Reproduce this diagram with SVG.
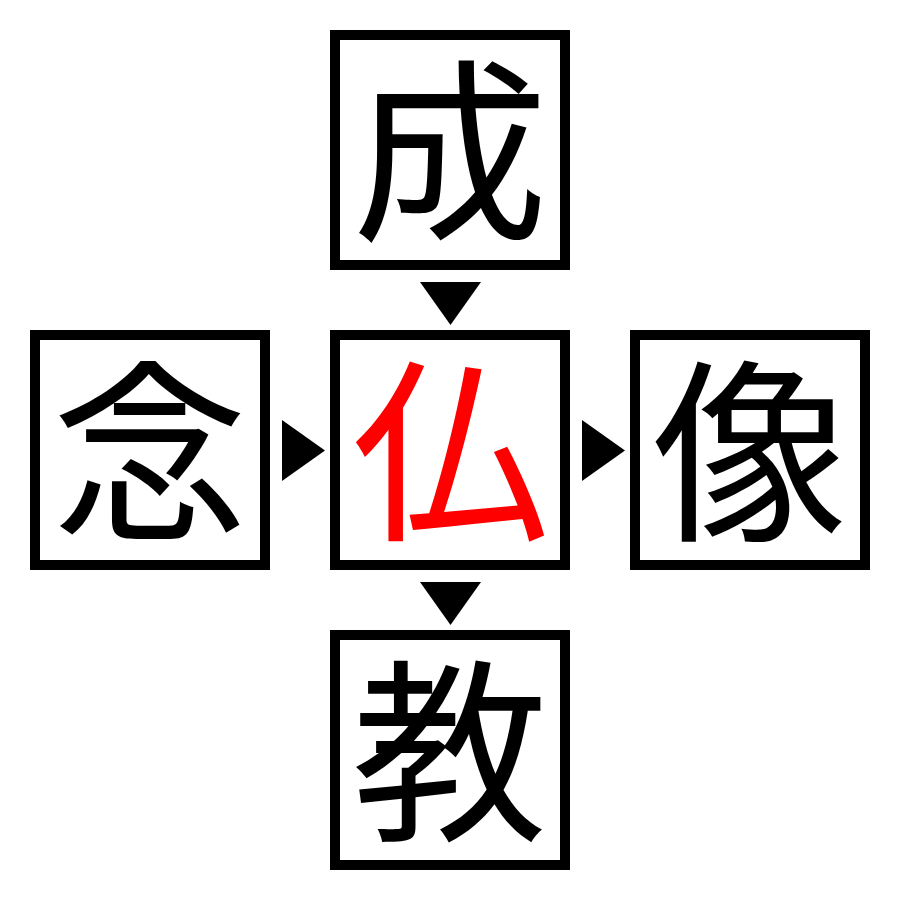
<svg xmlns="http://www.w3.org/2000/svg" width="900" height="900" viewBox="0 0 900 900">
<style>
.box{fill:#fff;stroke:#000;stroke-width:10}
.ch{font-family:"Noto Sans CJK JP","Noto Sans CJK SC",sans-serif;font-size:196px;text-anchor:middle;fill:#000;font-weight:400}
.red{fill:#ff0000}
.arr{fill:#000}
</style>
<rect width="900" height="900" fill="#fff"/>
<g id="node-top">
<rect class="box" x="335" y="35" width="230" height="230"/>
<text class="ch" x="450" y="225">成</text>
</g>
<g id="node-left">
<rect class="box" x="35" y="335" width="230" height="230"/>
<text class="ch" x="150" y="525">念</text>
</g>
<g id="node-center">
<rect class="box" x="335" y="335" width="230" height="230"/>
<text class="ch red" x="450" y="525">仏</text>
</g>
<g id="node-right">
<rect class="box" x="635" y="335" width="230" height="230"/>
<text class="ch" x="750" y="525">像</text>
</g>
<g id="node-bottom">
<rect class="box" x="335" y="635" width="230" height="230"/>
<text class="ch" x="450" y="825">教</text>
</g>
<g id="connectors">
<polygon class="arr" points="420,282 481,282 450.5,325"/>
<polygon class="arr" points="282,420 325,450.5 282,481"/>
<polygon class="arr" points="582,420 625,450.5 582,481"/>
<polygon class="arr" points="420,582 481,582 450.5,625"/>
</g>
</svg>
